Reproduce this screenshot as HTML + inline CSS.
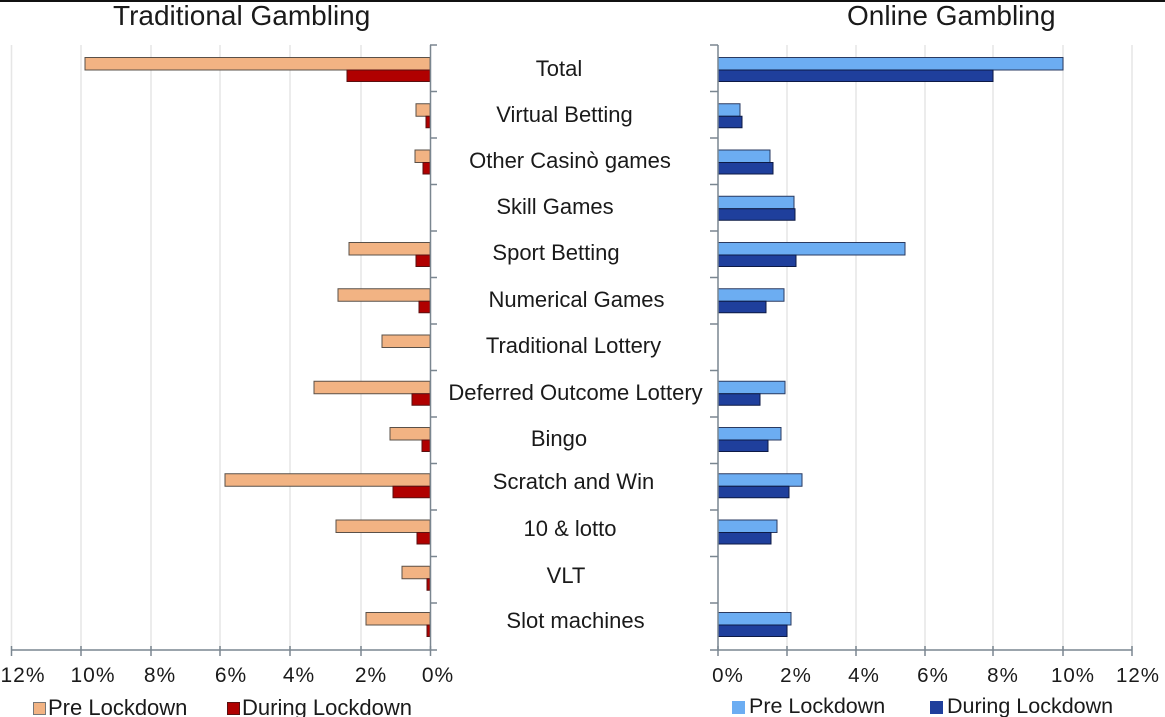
<!DOCTYPE html>
<html>
<head>
<meta charset="utf-8">
<style>
html,body{margin:0;padding:0;background:#fff;}
svg{display:block;}
text{font-family:"Liberation Sans",Arial,sans-serif;fill:#1a1a1a;}
</style>
</head>
<body>
<svg width="1165" height="717" viewBox="0 0 1165 717" xmlns="http://www.w3.org/2000/svg">
<rect x="0" y="0" width="1165" height="717" fill="#fff"/>
<rect x="0" y="0" width="1165" height="2" fill="#111"/>

<!-- Titles -->
<text x="113" y="25" font-size="28">Traditional Gambling</text>
<text x="847" y="25" font-size="28">Online Gambling</text>

<!-- Left gridlines -->
<g stroke="#e6e6e6" stroke-width="1.5">
<line x1="11.5" y1="45" x2="11.5" y2="650"/>
<line x1="81" y1="45" x2="81" y2="650"/>
<line x1="151" y1="45" x2="151" y2="650"/>
<line x1="220" y1="45" x2="220" y2="650"/>
<line x1="290" y1="45" x2="290" y2="650"/>
<line x1="361" y1="45" x2="361" y2="650"/>
</g>
<!-- Right gridlines -->
<g stroke="#e6e6e6" stroke-width="1.5">
<line x1="787" y1="45" x2="787" y2="650"/>
<line x1="856" y1="45" x2="856" y2="650"/>
<line x1="925" y1="45" x2="925" y2="650"/>
<line x1="993" y1="45" x2="993" y2="650"/>
<line x1="1063" y1="45" x2="1063" y2="650"/>
<line x1="1132" y1="45" x2="1132" y2="650"/>
</g>

<!-- Left bars: pre -->
<g fill="#f2b383" stroke="#5a5048" stroke-width="1">
<rect x="85" y="57.5" width="345" height="12.5"/>
<rect x="416" y="103.75" width="14" height="12.5"/>
<rect x="415" y="150" width="15" height="12.5"/>
<rect x="349" y="242.5" width="81" height="12.5"/>
<rect x="338" y="288.75" width="92" height="12.5"/>
<rect x="382" y="335" width="48" height="12.5"/>
<rect x="314" y="381.25" width="116" height="12.5"/>
<rect x="390" y="427.5" width="40" height="12.5"/>
<rect x="225" y="473.75" width="205" height="12.5"/>
<rect x="336" y="520" width="94" height="12.5"/>
<rect x="402" y="566.25" width="28" height="12.5"/>
<rect x="366" y="612.5" width="64" height="12.5"/>
</g>
<!-- Left bars: during -->
<g fill="#b00000" stroke="#5a1010" stroke-width="1">
<rect x="347" y="70" width="83" height="11.5"/>
<rect x="426" y="116.25" width="4" height="11.5"/>
<rect x="423" y="162.5" width="7" height="11.5"/>
<rect x="416" y="255" width="14" height="11.5"/>
<rect x="419" y="301.25" width="11" height="11.5"/>
<rect x="412" y="393.75" width="18" height="11.5"/>
<rect x="422" y="440" width="8" height="11.5"/>
<rect x="393" y="486.25" width="37" height="11.5"/>
<rect x="417" y="532.5" width="13" height="11.5"/>
<rect x="427" y="578.75" width="3" height="11.5"/>
<rect x="427" y="625" width="3" height="11.5"/>
</g>

<!-- Right bars: pre -->
<g fill="#6cadf2" stroke="#2a3a60" stroke-width="1">
<rect x="718" y="57.5" width="345" height="12.5"/>
<rect x="718" y="103.75" width="22" height="12.5"/>
<rect x="718" y="150" width="52" height="12.5"/>
<rect x="718" y="196.25" width="76" height="12.5"/>
<rect x="718" y="242.5" width="187" height="12.5"/>
<rect x="718" y="288.75" width="66" height="12.5"/>
<rect x="718" y="381.25" width="67" height="12.5"/>
<rect x="718" y="427.5" width="63" height="12.5"/>
<rect x="718" y="473.75" width="84" height="12.5"/>
<rect x="718" y="520" width="59" height="12.5"/>
<rect x="718" y="612.5" width="73" height="12.5"/>
</g>
<!-- Right bars: during -->
<g fill="#1f3f9c" stroke="#0d1a45" stroke-width="1">
<rect x="718" y="70" width="275" height="11.5"/>
<rect x="718" y="116.25" width="24" height="11.5"/>
<rect x="718" y="162.5" width="55" height="11.5"/>
<rect x="718" y="208.75" width="77" height="11.5"/>
<rect x="718" y="255" width="78" height="11.5"/>
<rect x="718" y="301.25" width="48" height="11.5"/>
<rect x="718" y="393.75" width="42" height="11.5"/>
<rect x="718" y="440" width="50" height="11.5"/>
<rect x="718" y="486.25" width="71" height="11.5"/>
<rect x="718" y="532.5" width="53" height="11.5"/>
<rect x="718" y="625" width="69" height="11.5"/>
</g>

<!-- Left axes -->
<g stroke="#7a8690" stroke-width="1.5" fill="none">
<line x1="430.5" y1="45" x2="430.5" y2="650"/>
<line x1="11" y1="650" x2="437" y2="650"/>
<line x1="430" y1="45" x2="437" y2="45"/>
<line x1="430" y1="91.5" x2="437" y2="91.5"/>
<line x1="430" y1="138" x2="437" y2="138"/>
<line x1="430" y1="184.5" x2="437" y2="184.5"/>
<line x1="430" y1="231" x2="437" y2="231"/>
<line x1="430" y1="277.5" x2="437" y2="277.5"/>
<line x1="430" y1="324" x2="437" y2="324"/>
<line x1="430" y1="370.5" x2="437" y2="370.5"/>
<line x1="430" y1="417" x2="437" y2="417"/>
<line x1="430" y1="463.5" x2="437" y2="463.5"/>
<line x1="430" y1="510" x2="437" y2="510"/>
<line x1="430" y1="556.5" x2="437" y2="556.5"/>
<line x1="430" y1="603" x2="437" y2="603"/>
<line x1="11.5" y1="646" x2="11.5" y2="656"/>
<line x1="81" y1="646" x2="81" y2="656"/>
<line x1="151" y1="646" x2="151" y2="656"/>
<line x1="220" y1="646" x2="220" y2="656"/>
<line x1="290" y1="646" x2="290" y2="656"/>
<line x1="361" y1="646" x2="361" y2="656"/>
<line x1="430.5" y1="646" x2="430.5" y2="656"/>
</g>

<!-- Right axes -->
<g stroke="#7a8690" stroke-width="1.5" fill="none">
<line x1="718" y1="45" x2="718" y2="650"/>
<line x1="710" y1="650" x2="1132" y2="650"/>
<line x1="710" y1="45" x2="718" y2="45"/>
<line x1="710" y1="91.5" x2="718" y2="91.5"/>
<line x1="710" y1="138" x2="718" y2="138"/>
<line x1="710" y1="184.5" x2="718" y2="184.5"/>
<line x1="710" y1="231" x2="718" y2="231"/>
<line x1="710" y1="277.5" x2="718" y2="277.5"/>
<line x1="710" y1="324" x2="718" y2="324"/>
<line x1="710" y1="370.5" x2="718" y2="370.5"/>
<line x1="710" y1="417" x2="718" y2="417"/>
<line x1="710" y1="463.5" x2="718" y2="463.5"/>
<line x1="710" y1="510" x2="718" y2="510"/>
<line x1="710" y1="556.5" x2="718" y2="556.5"/>
<line x1="710" y1="603" x2="718" y2="603"/>
<line x1="718" y1="646" x2="718" y2="656"/>
<line x1="787" y1="646" x2="787" y2="656"/>
<line x1="856" y1="646" x2="856" y2="656"/>
<line x1="925" y1="646" x2="925" y2="656"/>
<line x1="993" y1="646" x2="993" y2="656"/>
<line x1="1063" y1="646" x2="1063" y2="656"/>
<line x1="1132" y1="646" x2="1132" y2="656"/>
</g>

<!-- Category labels -->
<g font-size="22" text-anchor="middle">
<text x="559" y="76">Total</text>
<text x="564.5" y="122">Virtual Betting</text>
<text x="570" y="168">Other Casinò games</text>
<text x="555" y="214">Skill Games</text>
<text x="556" y="260">Sport Betting</text>
<text x="576.5" y="307">Numerical Games</text>
<text x="573.5" y="353">Traditional Lottery</text>
<text x="575.5" y="400">Deferred Outcome Lottery</text>
<text x="559" y="446">Bingo</text>
<text x="573.5" y="489">Scratch and Win</text>
<text x="570" y="536">10 &amp; lotto</text>
<text x="566" y="583">VLT</text>
<text x="575.5" y="628">Slot machines</text>
</g>

<!-- Left x tick labels -->
<g font-size="21" text-anchor="middle" letter-spacing="1">
<text x="23" y="682">12%</text>
<text x="93" y="682">10%</text>
<text x="160" y="682">8%</text>
<text x="231" y="682">6%</text>
<text x="299" y="682">4%</text>
<text x="371" y="682">2%</text>
<text x="438" y="682">0%</text>
</g>
<!-- Right x tick labels -->
<g font-size="20.5" text-anchor="middle" letter-spacing="1">
<text x="728" y="682">0%</text>
<text x="796" y="682">2%</text>
<text x="864" y="682">4%</text>
<text x="933" y="682">6%</text>
<text x="1003" y="682">8%</text>
<text x="1073" y="682">10%</text>
<text x="1138" y="682">12%</text>
</g>

<!-- Left legend -->
<rect x="33.5" y="702.5" width="12" height="12" fill="#f2b383" stroke="#777" stroke-width="1"/>
<text x="48" y="715" font-size="22">Pre Lockdown</text>
<rect x="227.5" y="702.5" width="12" height="12" fill="#b00000" stroke="#5a1010" stroke-width="1"/>
<text x="242" y="715" font-size="22">During Lockdown</text>

<!-- Right legend -->
<rect x="732.5" y="701.5" width="12" height="12" fill="#6cadf2" stroke="#6cadf2" stroke-width="1"/>
<text x="749" y="713" font-size="21.5">Pre Lockdown</text>
<rect x="930.5" y="701.5" width="12" height="12" fill="#1f3f9c" stroke="#1f3f9c" stroke-width="1"/>
<text x="947" y="713" font-size="21.5">During Lockdown</text>
</svg>
</body>
</html>
